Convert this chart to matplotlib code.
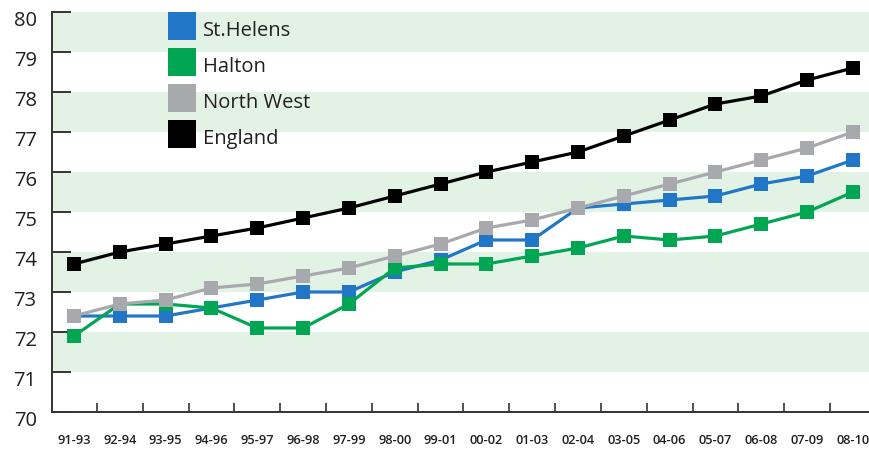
import matplotlib
matplotlib.use("Agg")
import matplotlib.pyplot as plt
from matplotlib.lines import Line2D
from matplotlib.ticker import FixedLocator, NullFormatter
import matplotlib.transforms as mtransforms

plt.rcParams['font.family'] = ['Open Sans', 'DejaVu Sans']
plt.rcParams['text.color'] = '#231f20'
plt.rcParams['xtick.labelcolor'] = '#231f20'
plt.rcParams['ytick.labelcolor'] = '#231f20'

periods = ["91-93", "92-94", "93-95", "94-96", "95-97", "96-98", "97-99", "98-00", "99-01",
           "00-02", "01-03", "02-04", "03-05", "04-06", "05-07", "06-08", "07-09", "08-10"]
st_helens = [72.4, 72.4, 72.4, 72.6, 72.8, 73.0, 73.0, 73.5, 73.8,
             74.3, 74.3, 75.1, 75.2, 75.3, 75.4, 75.7, 75.9, 76.3]
halton = [71.9, 72.7, 72.7, 72.6, 72.1, 72.1, 72.7, 73.6, 73.7,
          73.7, 73.9, 74.1, 74.4, 74.3, 74.4, 74.7, 75.0, 75.5]
north_west = [72.4, 72.7, 72.8, 73.1, 73.2, 73.4, 73.6, 73.9, 74.2,
              74.6, 74.8, 75.1, 75.4, 75.7, 76.0, 76.3, 76.6, 77.0]
england = [73.7, 74.0, 74.2, 74.4, 74.6, 74.85, 75.1, 75.4, 75.7,
           76.0, 76.25, 76.5, 76.9, 77.3, 77.7, 77.9, 78.3, 78.6]
y_ticks = [70, 71, 72, 73, 74, 75, 76, 77, 78, 79, 80]

series = [("St.Helens", st_helens, "#2176c7"),
          ("Halton", halton, "#00a651"),
          ("North West", north_west, "#a7a9ac"),
          ("England", england, "#000000")]

W, H = 869, 452
fig = plt.figure(figsize=(W / 100, H / 100), dpi=100)
ax = fig.add_axes([52 / W, (H - 413) / H, (W - 52) / W, 400 / H])

band = "#e2f2e5"
for lo in range(71, 80, 2):
    ax.axhspan(lo, lo + 1, color=band, lw=0, zorder=0)

x = list(range(len(periods)))
for i, (name, vals, col) in enumerate(series):
    ax.plot(x, vals, color=col, lw=2.3, marker='s', markersize=9.5,
            markeredgewidth=0, zorder=3 + i)

ax.set_xlim(-0.48, len(periods) - 1 + 0.35)
ax.set_ylim(70, 80)

for s in ("top", "right"):
    ax.spines[s].set_visible(False)
for s in ("left", "bottom"):
    ax.spines[s].set_color("#333333")
    ax.spines[s].set_linewidth(1.4)

ax.set_yticks(y_ticks)
ax.tick_params(axis='y', direction='in', length=14, width=1.4, color="#333333",
               labelsize=14.5, pad=11)
ax.set_xticks(x)
ax.set_xticklabels(periods, fontweight='semibold')
ax.tick_params(axis='x', which='major', length=0, labelsize=9.2, pad=15)
ax.xaxis.set_minor_locator(FixedLocator([i + 0.5 for i in range(len(periods) - 1)]))
ax.xaxis.set_minor_formatter(NullFormatter())
ax.tick_params(axis='x', which='minor', direction='in', length=6.5, width=1.2, color="#333333")

offset = mtransforms.ScaledTranslation(0, -6 / 100, fig.dpi_scale_trans)
for lab in ax.get_yticklabels():
    lab.set_transform(lab.get_transform() + offset)

handles = [Line2D([], [], color=col, marker='s', linestyle='none', markersize=20,
                  markeredgewidth=0) for _, _, col in series]
labels = [name for name, _, _ in series]
ax.legend(handles, labels, loc='upper left', bbox_to_anchor=(168 / W, 1 - 18 / H),
          bbox_transform=fig.transFigure, frameon=False, fontsize=14.5,
          borderpad=0, borderaxespad=0, handlelength=1.4, handleheight=1.4,
          handletextpad=0.35, labelspacing=0.62)

fig.savefig("out.png", dpi=100)
